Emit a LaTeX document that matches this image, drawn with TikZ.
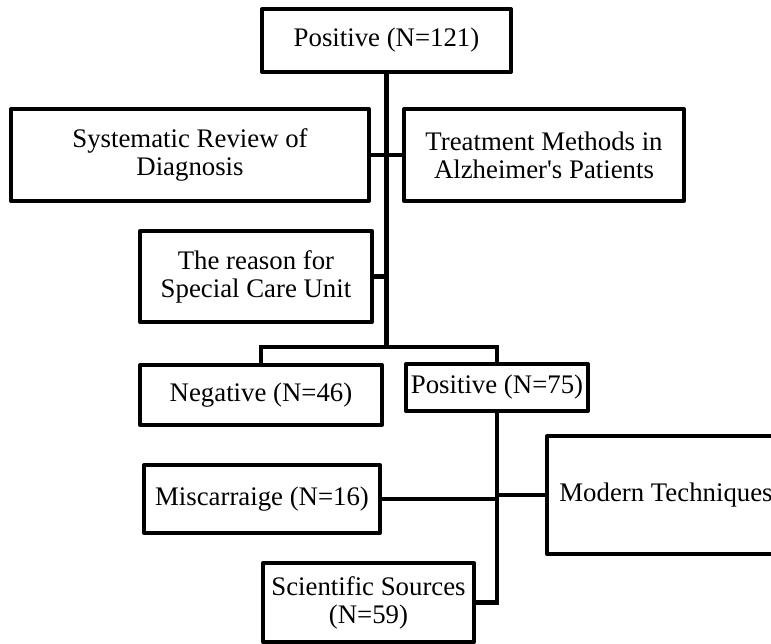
\documentclass[tikz,border=0pt]{standalone}
\usepackage{fontspec}
\setmainfont{Liberation Serif}
\begin{document}
\begin{tikzpicture}[x=1pt,y=-1pt,
  box/.style={draw=black, line width=4pt, line join=round, rectangle, inner sep=0pt,
    align=center, font=\fontsize{26.8}{28}\selectfont, fill=white},
  link/.style={draw=black, line width=4.2pt}]
\clip (0,0) rectangle (771,644);
\useasboundingbox[fill=white] (0,0) rectangle (771,644);

\node[box, minimum width=249pt, minimum height=63pt] (top) at (386.5,40.5) {Positive (N=121)};
\node[box, minimum width=358pt, minimum height=92pt] (sys) at (190,155) {Systematic Review of\\Diagnosis};
\node[box, minimum width=280pt, minimum height=92pt] (treat) at (544,155) {Treatment Methods in\\Alzheimer\textquotesingle s Patients};
\node[box, minimum width=232pt, minimum height=91pt] (reason) at (256,276.5) {The reason for\\Special Care Unit};
\node[box, minimum width=242pt, minimum height=60pt] (neg) at (261,395) {Negative (N=46)};
\node[box, minimum width=182pt, minimum height=47pt] (pos) at (497,387.5) {Positive (N=75)};
\node[box, minimum width=236pt, minimum height=68pt] (misc) at (262,499) {Miscarraige (N=16)};
\node[box, minimum width=238pt, minimum height=118pt] (modern) at (666,495) {Modern Techniques};
\node[box, minimum width=211pt, minimum height=79pt] (sci) at (368.5,602.5) {Scientific Sources\\(N=59)};

\coordinate (split) at (386.5,347);

\draw[link] (top.south) -- (split);
\draw[link] (sys.east) -- (treat.west);
\draw[link] (reason.east) -- (reason.east -| top.south);
\draw[link] (neg.north) |- (split) -| (pos.north);
\draw[link] (pos.south) |- (sci.east);
\draw[link] (misc.east) -- (misc.east -| pos.south);
\draw[link] (modern.west) -- (modern.west -| pos.south);
\end{tikzpicture}
\end{document}
